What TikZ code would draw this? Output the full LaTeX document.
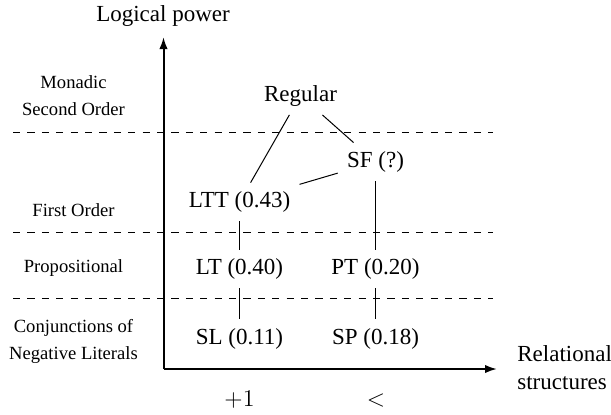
\documentclass[tikz,border=0pt]{standalone}
\usepackage{fontspec}
\setmainfont{Liberation Serif}
\usetikzlibrary{arrows.meta}
\begin{document}
\begin{tikzpicture}[x=0.5pt,y=-0.5pt,
  lbl/.style={font=\fontsize{11.5}{13}\selectfont, text height=8pt, text depth=2.3pt,
    minimum height=19pt, inner xsep=4.5pt, inner ysep=0pt},
  side/.style={font=\fontsize{9.3}{13.5}\selectfont, align=center, inner sep=0pt},
  axis/.style={line width=1pt, -{Latex[length=6pt,width=4.2pt]}},
  level/.style={line width=0.5pt, dash pattern=on 3.6pt off 3.6pt},
  conn/.style={line width=0.5pt}]
\useasboundingbox (0,0) rectangle (611,414);

% axes
\coordinate (O) at (163.5,369);
\coordinate (ytip) at (163.5,37);
\coordinate (xtip) at (497,369);
\draw[axis] (O) -- (ytip);
\draw[axis] (O) -- (xtip);

% dashed level lines
\coordinate (d1a) at (13,132.5); \coordinate (d1b) at (493,132.5);
\coordinate (d2a) at (13,232.5); \coordinate (d2b) at (493,232.5);
\coordinate (d3a) at (13,298.5); \coordinate (d3b) at (493,298.5);
\draw[level] (d1a) -- (d1b);
\draw[level] (d2a) -- (d2b);
\draw[level] (d3a) -- (d3b);

% axis labels
\node[lbl] (ylab) at (163,16) {Logical power};
\node[font=\fontsize{11.5}{14}\selectfont, align=left, anchor=west, inner sep=0pt] (xlab) at (517,368) {Relational\\structures};
\node[font=\fontsize{11.5}{13}\selectfont, inner sep=0pt] (plus) at (239.5,400) {$+1$};
\node[font=\fontsize{11.5}{13}\selectfont, inner sep=0pt] (less) at (376,400) {$<$};

% side labels
\node[side] (mso) at (73.5,96) {Monadic\\Second Order};
\node[side] (fo) at (73.5,210) {First Order};
\node[side] (prop) at (73.5,268) {Propositional};
\node[side] (cnl) at (73.5,341) {Conjunctions of\\Negative Literals};

% main nodes
\node[lbl] (reg) at (300.5,95.5) {Regular};
\node[lbl] (sf)  at (375.5,162) {SF (?)};
\node[lbl] (ltt) at (239.5,202) {LTT (0.43)};
\node[lbl] (lt)  at (239.5,269) {LT (0.40)};
\node[lbl] (pt)  at (375.5,269) {PT (0.20)};
\node[lbl] (sl)  at (239.5,338.5) {SL (0.11)};
\node[lbl] (sp)  at (375.5,338.5) {SP (0.18)};

% connectors
\draw[conn] (reg) -- (ltt);
\draw[conn] (reg) -- (sf);
\draw[conn] (sf) -- (ltt);
\draw[conn] (ltt) -- (lt);
\draw[conn] (sf) -- (pt);
\draw[conn] (lt) -- (sl);
\draw[conn] (pt) -- (sp);
\end{tikzpicture}
\end{document}
